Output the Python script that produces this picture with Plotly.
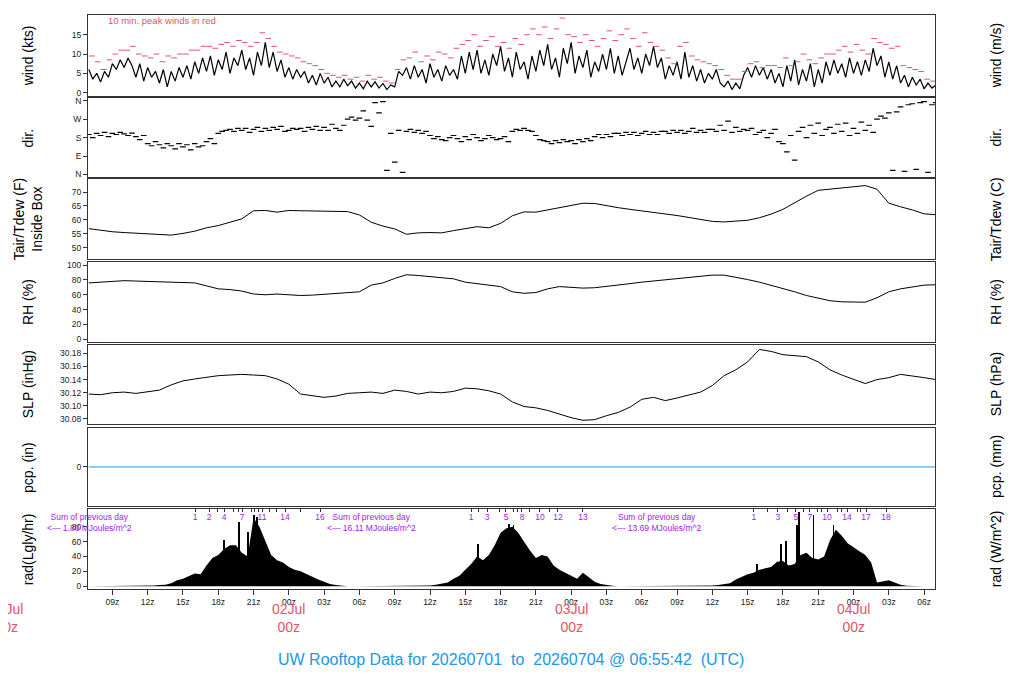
import plotly.graph_objects as go

# time axis: hours since 01Jul 00z
X0, X1 = 6.928, 78.928
HOURS = list(range(7, 80))

TEMP_F = [
    56.9, 56.3, 55.8, 55.5, 55.3, 55.2, 54.9, 54.6, 55.2, 56.0, 57.2, 58.0,
    59.2, 60.4, 63.3, 63.4, 62.8, 63.4, 63.3, 63.2, 63.3, 63.2, 63.0, 61.8,
    59.2, 57.8, 56.8, 54.9, 55.4, 55.5, 55.4, 56.2, 56.9, 57.6, 57.2, 58.8,
    61.5, 62.9, 62.8, 63.6, 64.3, 65.0, 66.0, 65.9, 65.1, 64.4, 63.8, 63.3,
    62.8, 62.3, 61.6, 60.9, 60.2, 59.5, 59.3, 59.6, 59.9, 60.8, 62.1, 63.8,
    66.3, 68.5, 70.6, 71.0, 71.4, 71.8, 72.3, 71.0, 66.0, 64.7, 63.6, 62.2,
    61.9,
]
RH = [
    76, 77, 78, 79, 78.5, 78, 77.5, 77, 76.5, 76, 72, 68,
    67, 65, 61, 60, 61, 60, 59, 59.5, 60.5, 62, 62.5, 64,
    73, 76, 82, 87, 86, 84.5, 83, 81.5, 77, 75, 74, 71,
    64, 62, 63, 68, 71, 70, 69, 69.5, 71, 73, 75, 77,
    78.5, 80, 82, 84, 85.5, 86.5, 86.5, 84, 80.5, 77, 73, 68,
    64, 59, 55, 52, 50.5, 50, 50, 56, 64, 68, 70.5, 73,
    73.5,
]
SLP_INHG = [
    30.118, 30.117, 30.120, 30.121, 30.119, 30.121, 30.124, 30.132, 30.138, 30.141, 30.144, 30.146,
    30.147, 30.148, 30.147, 30.146, 30.141, 30.133, 30.118, 30.116, 30.113, 30.115, 30.119, 30.120,
    30.121, 30.119, 30.124, 30.122, 30.118, 30.121, 30.120, 30.122, 30.127, 30.126, 30.123, 30.118,
    30.106, 30.099, 30.097, 30.093, 30.087, 30.082, 30.078, 30.079, 30.085, 30.090, 30.098, 30.110,
    30.113, 30.108, 30.112, 30.117, 30.121, 30.131, 30.146, 30.155, 30.167, 30.186, 30.183, 30.178,
    30.177, 30.175, 30.167, 30.155, 30.147, 30.140, 30.134, 30.140, 30.143, 30.148, 30.146, 30.143,
    30.140,
]
PCP_IN = [
    0, 0, 0, 0, 0, 0, 0, 0, 0, 0, 0, 0,
    0, 0, 0, 0, 0, 0, 0, 0, 0, 0, 0, 0,
    0, 0, 0, 0, 0, 0, 0, 0, 0, 0, 0, 0,
    0, 0, 0, 0, 0, 0, 0, 0, 0, 0, 0, 0,
    0, 0, 0, 0, 0, 0, 0, 0, 0, 0, 0, 0,
    0, 0, 0, 0, 0, 0, 0, 0, 0, 0, 0, 0,
    0,
]

# wind speed, 3 readings per hour starting 07z 01Jul
WIND_KTS = [
    6, 3.5, 5, 2.8, 5.5, 4, 7.5, 6, 8.5, 6.5, 9, 7,
    4, 7.5, 3, 6.5, 4, 5.5, 2.5, 6, 1.5, 5.5, 3, 6.5,
    4, 7, 3.5, 8, 5, 9, 5.5, 9.5, 4.5, 8.5, 6, 10.5,
    5, 9, 7, 11, 6, 9, 4.5, 10.5, 7, 13, 6.5, 10.5,
    5.5, 8.5, 4, 6.5, 3.5, 6, 4, 5.5, 2.5, 4.5, 2, 5,
    2.5, 4, 1.5, 3, 1.5, 3.5, 1.8, 3, 1.2, 2.5, 1, 3,
    1.5, 2.8, 1.2, 2.4, 0.8, 2, 1.5, 5.5, 4.5, 6.5, 3.5, 7,
    4, 6, 2.5, 7.5, 4, 6, 3, 7, 4.5, 6, 3.5, 9.5,
    5, 10.5, 6, 11, 5, 8.5, 4.5, 10, 7, 12, 5.5, 9,
    4, 10.5, 6, 8, 3.5, 9.5, 5.5, 11, 7, 12.5, 6, 9,
    4, 11.5, 7.5, 13, 5, 9.5, 6.5, 11, 4, 8, 5.5, 10,
    6, 11.5, 5, 9.5, 4.5, 8, 11.5, 6, 9, 5, 10, 7,
    12, 6.5, 9, 3.5, 7, 4.5, 8, 3.5, 10.5, 4, 7, 3,
    6, 2.5, 5, 3.5, 6, 2.5, 1.5, 3, 0.8, 2.5, 1, 4.5,
    6.5, 4, 7, 4.5, 6.5, 3.5, 6, 2.5, 5, 1.5, 7, 3,
    8.5, 2, 6, 3, 7.5, 1.5, 6, 2.5, 8, 4.5, 8.5, 5,
    7.5, 4, 9, 5, 8, 4.5, 8.5, 5.5, 11.5, 7, 9.5, 4,
    8, 3.5, 7, 2.5, 4.5, 1.5, 4, 2, 3.5, 1, 2.5, 1.2,
    2,
]
# 10-minute peak winds, 2 per hour starting 07:15z
PEAK_KTS = [
    9.5, 8, 6, 8.5, 10, 11, 11, 12, 10, 9.5, 9, 10,
    8, 9.5, 9, 10, 10, 11, 11, 12, 12, 11.5, 12.5, 13,
    12, 13.5, 13, 12, 13, 15.5, 14, 12, 10.5, 10, 9.5, 9,
    8, 7.5, 7, 6, 5, 4.5, 4, 4.5, 3.5, 4, 3, 4.5,
    3.5, 4, 3, 2.5, 6, 8.5, 9, 10.5, 8, 9.5, 8.5, 10.5,
    10, 9, 11.5, 12.5, 13.5, 15, 12, 13.5, 14.5, 12, 13, 11.5,
    14, 12.5, 15, 16.5, 15, 17, 14, 16.5, 19.3, 15, 14.5, 13,
    15, 13.5, 12, 14, 16, 13.5, 15, 16.5, 14, 12, 15.5, 13,
    12, 11, 9, 7.5, 12, 13, 9.5, 8.5, 8, 7.5, 7, 6,
    4.5, 3.5, 3.5, 5.5, 7.5, 8, 6.5, 7, 7, 6.5, 9, 7,
    8, 10, 8.5, 7.5, 9, 10, 10, 11, 12, 10.5, 12.5, 11,
    10, 14, 13, 12.5, 11.5, 12, 7, 6.5, 6, 5.5, 3.5, 3,
]
# wind direction (deg), 3 readings per hour starting 07z
DIR_DEG = [
    195, 180, 200, 190, 205, 185, 200, 195, 205, 198, 190, 202,
    185, 170, 190, 150, 140, 160, 145, 130, 150, 140, 125, 150,
    135, 145, 120, 150, 135, 140, 160, 175, 150, 200, 210, 215,
    220, 210, 225, 215, 225, 205, 220, 230, 210, 225, 215, 230,
    220, 235, 210, 215, 225, 220, 225, 210, 230, 220, 235, 215,
    230, 215, 245, 225, 215, 240, 270, 280, 265, 275, 310, 265,
    235, 350, 300, 355, 20, 200, 60, 215, 10, 210, 220, 205,
    215, 200, 210, 190, 175, 185, 170, 165, 180, 190, 175, 160,
    185, 170, 195, 180, 165, 175, 190, 180, 170, 175, 185, 160,
    210, 220, 215, 225, 215, 210, 190, 170, 165, 160, 150, 165,
    155, 170, 160, 165, 150, 170, 160, 175, 165, 185, 195, 180,
    195, 185, 200, 200, 190, 205, 195, 205, 190, 200, 210, 195,
    205, 195, 210, 210, 200, 215, 205, 215, 200, 210, 225, 205,
    215, 205, 220, 220, 210, 240, 215, 260, 205, 230, 210, 220,
    215, 225, 195, 205, 215, 180, 200, 220, 160, 150, 110, 190,
    70, 210, 230, 180, 240, 200, 250, 190, 220, 230, 200, 245,
    210, 250, 190, 225, 200, 255, 215, 240, 205, 270, 285, 275,
    300, 20, 305, 330, 15, 340, 345, 25, 350, 355, 10, 340,
    350,
]

# solar radiation (Langley/hr), half-hourly from 07z 01Jul
RAD_LY = [
    0, 0, 0, 0, 0, 0, 0, 0, 0, 0,
    0.5, 1, 1.5, 2, 4, 8, 10, 14, 17, 16, 28, 38, 42, 50, 55, 55, 45,
    40, 92, 80, 60, 42, 35, 32, 26, 22, 20, 16, 12, 9, 6, 3, 1.5, 0.5,
    0, 0, 0, 0, 0, 0, 0, 0, 0, 0, 0, 0, 0, 0,
    1, 2, 3, 5, 10, 14, 22, 30, 40, 35, 42, 55, 72, 78, 80, 72,
    60, 48, 38, 42, 40, 28, 22, 18, 14, 10, 18, 12, 6, 3, 1.5, 0.5,
    0, 0, 0, 0, 0, 0, 0, 0, 0, 0, 0, 0, 0, 0, 0,
    0.3, 0.8, 1.5, 2.5, 4, 9, 13, 16, 18, 22, 24, 26, 33, 34, 28, 30, 42, 45,
    38, 36, 40, 62, 76, 68, 58, 52, 47, 42, 32, 5, 6, 8, 5, 2, 0.5,
    0, 0, 0, 0, 0,
]
SPIKE_HOURS = [18.5, 19.8, 20.5, 21.0, 21.3, 40.1, 42.7, 43.1,
               63.8, 65.8, 66.3, 67.2, 67.4, 68.6, 70.3]
SPIKE_LY = [62, 86, 72, 96, 93, 56, 84, 82,
            30, 56, 60, 82, 99, 95, 82]

# cumulative MJ/m^2 marks along the top of the radiation panel
MJ_TICK_HOURS = [16.03, 17.22, 17.9, 18.49, 19.26, 19.68, 20.02, 20.79, 21.04, 21.38,
                 21.72, 22.32, 22.91, 23.68, 24.95, 26.65,
                 39.49, 40.08, 40.85, 41.87, 42.46, 43.14, 43.40, 43.82, 44.5, 45.35,
                 46.2, 46.88, 49.0,
                 63.54, 64.73, 65.58, 66.35, 67.11, 67.71, 68.3, 68.98, 69.3, 69.75,
                 70.6, 71.0, 71.45, 72.3, 72.6, 73.07, 74.77]
MJ_TICK_TEXT = ["1", "2", "", "4", "", "", "7", "", "", "",
                "11", "", "", "14", "", "16",
                "1", "", "3", "", "5", "", "", "8", "", "10",
                "", "12", "13",
                "1", "", "3", "", "5", "", "7", "", "", "10",
                "", "", "14", "", "", "17", "18"]
DAY_SUM_HOURS = [7.06, 31.0, 55.3]
DAY_SUM_MJ = ["1.80", "16.11", "13.69"]

TIME_TICKS = list(range(9, 79, 3))
DATE_HOURS = [0, 24, 48, 72]
DATE_LABELS = ["01Jul", "02Jul", "03Jul", "04Jul"]

RED = "#DF536B"
BLUE = "#2297E6"
PURPLE = "#A020F0"
FONT = "Liberation Sans, Arial, sans-serif"

# the page body adds an 8px offset, so the figure is sized to fit inside it
PAGE_OFF = 8
PAGE_W, PAGE_H = 1024, 700
# panel geometry in page pixels (top, bottom)
PANEL_TOP = [13, 96, 178, 261, 344, 427, 509]
PANEL_BOT = [94, 176, 258, 341, 423, 506, 589]
H_TOP, H_BOT = 13, 589
P_LEFT, P_RIGHT = 88, 935


def dom(i):
    span = H_BOT - H_TOP
    return [(H_BOT - PANEL_BOT[i]) / span, (H_BOT - PANEL_TOP[i]) / span]


def xpaper(h):
    return (h - X0) / (X1 - X0)


def xpix(px):
    return (px - P_LEFT) / (P_RIGHT - P_LEFT)


def ypix(py):
    return (H_BOT - py) / (H_BOT - H_TOP)


wind_t = [7 + i / 3 for i in range(len(WIND_KTS))]
peak_t = [7.25 + i * 0.5 for i in range(len(PEAK_KTS))]
dir_t = [7 + i / 3 for i in range(len(DIR_DEG))]
rad_t = [7 + i * 0.5 for i in range(len(RAD_LY))]

fig = go.Figure()

fig.add_trace(go.Scatter(x=wind_t, y=WIND_KTS, mode="lines", line=dict(color="black", width=1.2),
                         xaxis="x", yaxis="y"))
fig.add_trace(go.Scatter(x=peak_t, y=PEAK_KTS, mode="markers", xaxis="x", yaxis="y",
                         marker=dict(symbol="line-ew", size=4, line=dict(color=RED, width=1))))
fig.add_trace(go.Scatter(x=dir_t, y=DIR_DEG, mode="markers", xaxis="x2", yaxis="y2",
                         marker=dict(symbol="line-ew", size=4, line=dict(color="black", width=1.2))))
fig.add_trace(go.Scatter(x=HOURS, y=TEMP_F, mode="lines", line=dict(color="black", width=1),
                         xaxis="x3", yaxis="y3"))
fig.add_trace(go.Scatter(x=HOURS, y=RH, mode="lines", line=dict(color="black", width=1),
                         xaxis="x4", yaxis="y4"))
fig.add_trace(go.Scatter(x=HOURS, y=SLP_INHG, mode="lines", line=dict(color="black", width=1),
                         xaxis="x5", yaxis="y5"))
fig.add_trace(go.Scatter(x=HOURS, y=PCP_IN, mode="lines", line=dict(color=BLUE, width=1),
                         xaxis="x6", yaxis="y6"))
fig.add_trace(go.Scatter(x=rad_t, y=RAD_LY, mode="lines", line=dict(color="black", width=0),
                         fill="tozeroy", fillcolor="black", xaxis="x7", yaxis="y7"))
fig.add_trace(go.Bar(x=SPIKE_HOURS, y=SPIKE_LY, width=0.08, marker=dict(color="black", line=dict(width=0)),
                     xaxis="x7", yaxis="y7"))
# carrier for the cumulative-MJ axis on top of the radiation panel
fig.add_trace(go.Scatter(x=MJ_TICK_HOURS, y=[None for _ in MJ_TICK_HOURS], mode="markers",
                         xaxis="x8", yaxis="y7", hoverinfo="skip"))

tickfont = dict(family=FONT, size=8.5, color="#222")
frame = dict(showline=True, linecolor="#333", linewidth=1, mirror=True, showgrid=False, zeroline=False)

left_specs = [
    dict(range=[-0.78, 20.1], tickvals=[0, 5, 10, 15]),
    dict(range=[-14.4, 374.4], tickvals=[0, 90, 180, 270, 360], ticktext=["N", "E", "S", "W", "N"]),
    dict(range=[46, 74.5], tickvals=[50, 55, 60, 65, 70]),
    dict(range=[-3.5, 104], tickvals=[0, 20, 40, 60, 80, 100]),
    dict(range=[30.073, 30.193], tickvals=[30.08, 30.10, 30.12, 30.14, 30.16, 30.18], tickformat=".2f"),
    dict(range=[-1, 1], tickvals=[0]),
    dict(range=[-3.8, 103.6], tickvals=[0, 20, 40, 60, 80, 100]),
]
conv = [
    lambda v: v * 0.51444,
    lambda v: v,
    lambda v: (v - 32) * 5 / 9,
    lambda v: v,
    lambda v: v * 33.8639,
    lambda v: v * 25.4,
    lambda v: v * 11.622,
]
right_specs = [
    dict(tickvals=[0, 2, 4, 6, 8, 10]),
    dict(tickvals=[0, 90, 180, 270, 360], ticktext=["N", "E", "S", "W", "N"]),
    dict(tickvals=[10, 15, 20]),
    dict(tickvals=[0, 20, 40, 60, 80, 100]),
    dict(tickvals=[1019, 1020, 1021, 1022]),
    dict(tickvals=[0]),
    dict(tickvals=[0, 200, 400, 600, 800, 1000]),
]
left_titles = ["wind (kts)", "dir.", "Tair/Tdew (F)<br>Inside Box", "RH (%)",
               "SLP (inHg)", "pcp. (in)", "rad(Lgly/hr)"]
right_titles = ["wind (m/s)", "dir.", "Tair/Tdew (C)", "RH (%)",
                "SLP (hPa)", "pcp. (mm)", "rad (W/m^2)"]

layout = {}
annotations = []
for i in range(7):
    n = i + 1
    xkey = "xaxis" if n == 1 else f"xaxis{n}"
    ykey = "yaxis" if n == 1 else f"yaxis{n}"
    xa = dict(frame, domain=[0, 1], range=[X0, X1], anchor="y" if n == 1 else f"y{n}",
              showticklabels=False, ticks="")
    if n > 1:
        xa["matches"] = "x"
    if n == 7:
        xa.update(ticks="outside", ticklen=5, tickcolor="#333", showticklabels=True,
                  tickvals=TIME_TICKS + DATE_HOURS[1:],
                  ticktext=[f"{t % 24:02d}z" for t in TIME_TICKS] + ["" for _ in DATE_HOURS[1:]],
                  tickfont=tickfont)
    layout[xkey] = xa
    spec = left_specs[i]
    ya = dict(frame, domain=dom(i), range=spec["range"], anchor="x" if n == 1 else f"x{n}",
              tickvals=spec["tickvals"], ticks="outside", ticklen=4, tickcolor="#333",
              tickfont=tickfont, fixedrange=True)
    if "ticktext" in spec:
        ya["ticktext"] = spec["ticktext"]
    if "tickformat" in spec:
        ya["tickformat"] = spec["tickformat"]
    layout[ykey] = ya
    rspec = right_specs[i]
    ra = dict(range=[conv[i](spec["range"][0]), conv[i](spec["range"][1])],
              overlaying="y" if n == 1 else f"y{n}", anchor="x" if n == 1 else f"x{n}",
              side="right", showgrid=False, zeroline=False, showline=False,
              tickvals=rspec["tickvals"], ticks="outside", ticklen=4, tickcolor="#333",
              tickfont=tickfont)
    if "ticktext" in rspec:
        ra["ticktext"] = rspec["ticktext"]
    layout[f"yaxis{n + 7}"] = ra

    ymid = sum(dom(i)) / 2
    annotations.append(dict(text=left_titles[i], xref="paper", yref="paper", x=xpix(28),
                            y=ymid, textangle=-90, showarrow=False, xanchor="center", yanchor="middle",
                            font=dict(family=FONT, size=14, color="black")))
    annotations.append(dict(text=right_titles[i], xref="paper", yref="paper", x=xpix(996),
                            y=ymid, textangle=-90, showarrow=False, xanchor="center", yanchor="middle",
                            font=dict(family=FONT, size=14, color="black")))

layout["xaxis8"] = dict(overlaying="x7", anchor="y7", side="top", range=[X0, X1],
                        showgrid=False, zeroline=False, showline=False,
                        tickvals=MJ_TICK_HOURS, ticktext=MJ_TICK_TEXT,
                        ticks="inside", ticklen=3, tickcolor="#333",
                        ticklabelposition="inside",
                        tickfont=dict(family=FONT, size=8.5, color=PURPLE))

for h, mj in zip(DAY_SUM_HOURS, DAY_SUM_MJ):
    annotations.append(dict(text=f"Sum of previous day<br><--- {mj} MJoules/m^2",
                            xref="paper", yref="paper", x=xpaper(h), y=dom(6)[1],
                            yshift=-1, xanchor="center", yanchor="top", showarrow=False,
                            font=dict(family=FONT, size=8.5, color=PURPLE)))

for h, lab in zip(DATE_HOURS, DATE_LABELS):
    annotations.append(dict(text=f"{lab}<br>00z", xref="paper", yref="paper", x=xpaper(h), y=0,
                            yshift=-10, xanchor="center", yanchor="top", showarrow=False,
                            font=dict(family=FONT, size=14, color=RED)))

annotations.append(dict(text="10 min. peak winds in red", xref="paper", yref="paper",
                        x=xpix(106), y=ypix(19),
                        xanchor="left", yanchor="middle", showarrow=False,
                        font=dict(family=FONT, size=9.5, color=RED)))

annotations.append(dict(text="UW Rooftop Data for 20260701&nbsp; to&nbsp; 20260704 @ 06:55:42&nbsp; (UTC)",
                        xref="paper", yref="paper", x=xpix(511),
                        y=ypix(660), xanchor="center", yanchor="middle",
                        showarrow=False, font=dict(family=FONT, size=16, color=BLUE)))

fig.update_layout(
    width=PAGE_W - PAGE_OFF, height=PAGE_H - PAGE_OFF,
    margin=dict(l=P_LEFT - PAGE_OFF, r=PAGE_W - P_RIGHT,
                t=H_TOP - PAGE_OFF, b=PAGE_H - H_BOT),
    paper_bgcolor="white", plot_bgcolor="white",
    showlegend=False, bargap=0,
    font=dict(family=FONT),
    annotations=annotations,
    **layout,
)

fig.write_html("out.html")
